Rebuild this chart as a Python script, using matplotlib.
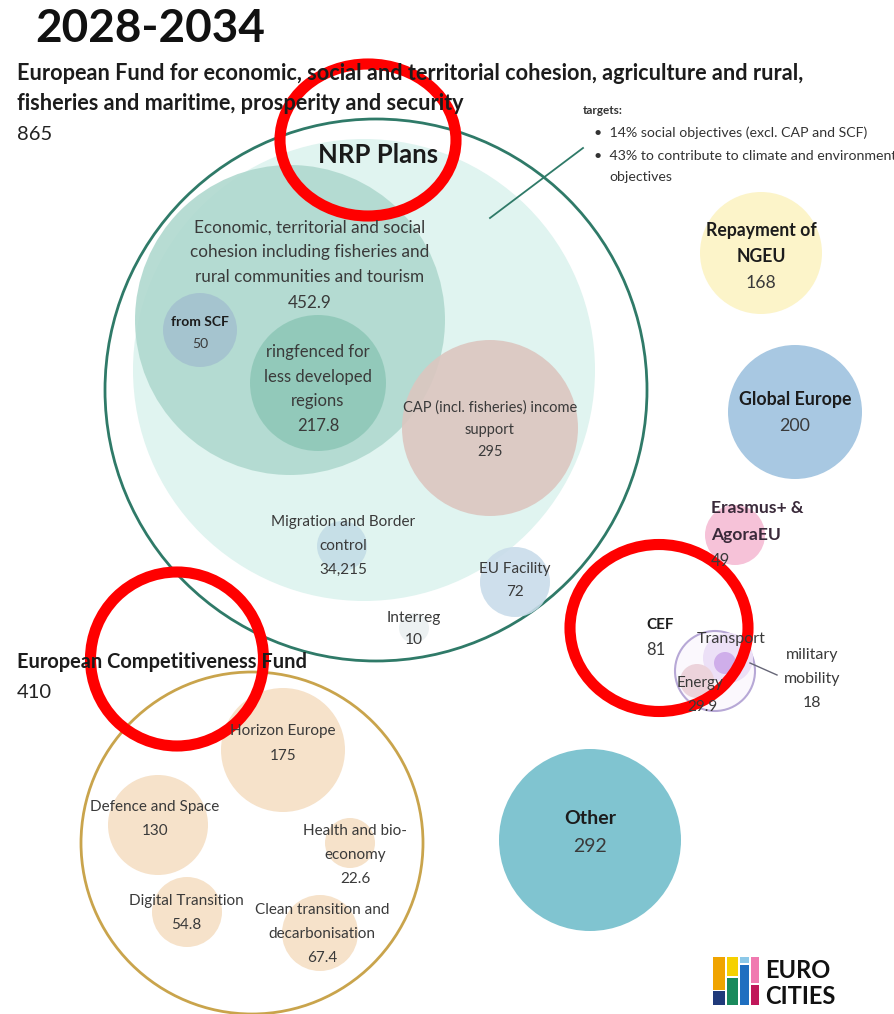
import matplotlib
matplotlib.use("Agg")
import matplotlib.pyplot as plt
from matplotlib.patches import Circle, Ellipse, Rectangle

plt.rcParams['font.family'] = ['Lato', 'DejaVu Sans']

# ---- data ----
period = "2028-2034"
fund1_title = ["European Fund for economic, social and territorial cohesion, agriculture and rural,",
               "fisheries and maritime, prosperity and security"]
fund1_total = 865
fund2_title = "European Competitiveness Fund"
fund2_total = 410

nrp_names = ["Economic, territorial and social\ncohesion including fisheries and\nrural communities and tourism",
             "from SCF", "ringfenced for\nless developed\nregions",
             "CAP (incl. fisheries) income\nsupport", "Migration and Border\ncontrol",
             "EU Facility", "Interreg"]
nrp_values = ["452.9", "50", "217.8", "295", "34,215", "72", "10"]

targets = ["14% social objectives (excl. CAP and SCF)",
           "43% to contribute to climate and environmental\nobjectives"]

ecf_names = ["Horizon Europe", "Defence and Space", "Health and bio-\neconomy",
             "Digital Transition", "Clean transition and\ndecarbonisation"]
ecf_values = ["175", "130", "22.6", "54.8", "67.4"]

other_names = ["Repayment of\nNGEU", "Global Europe", "Other"]
other_values = ["168", "200", "292"]

erasmus_name = "Erasmus+ &\nAgoraEU"
erasmus_value = "49"
cef_name, cef_value = "CEF", "81"
cef_parts = ["Transport", "Energy", "military\nmobility"]
cef_values = ["", "29.9", "18"]

# ---- layout (pixels: centre x, centre y, radius, colour) ----
nrp_circles = [(290, 320, 155, "#b0d9cf"), (200, 330, 37, "#a4c2cf"), (318, 383, 68, "#8fc8b8"),
               (490, 428, 88, "#dcc6c0"), (342, 546, 25, "#c4dde6"), (515, 582, 35, "#c9dcea"),
               (414, 628, 15, "#eaf0f1")]
nrp_labels = [(310, 265, 25, 12.3), (200, 333, 21, 10), (318, 389, 24.5, 12),
              (490, 430, 22, 10.5), (343, 546, 24, 11), (515, 581, 23, 11), (414, 629, 22, 11.2)]
ecf_circles = [(283, 750, 62), (158, 825, 50), (350, 843, 25), (187, 912, 35), (320, 933, 38)]
ecf_labels = [(283, 743, 25), (155, 819, 24), (355, 855, 24), (186, 913, 24), (322, 934, 24)]
other_circles = [(761, 253, 61, "#fcf4c9"), (795, 412, 67, "#a8c8e2"), (590, 840, 91, "#80c4d0")]
other_labels = [(761, 257, 26.5, 12.7), (795, 413, 26, 12.8), (590, 832, 28, 14)]

fig = plt.figure(figsize=(8.94, 10.14), dpi=100)
ax = fig.add_axes([0, 0, 1, 1])
ax.set_xlim(0, 894)
ax.set_ylim(1014, 0)
ax.axis('off')

txt = "#3a3a3a"


def label(x, y, name, value, step, size, bold=False, vsize=None):
    lines = name.split("\n") + ([value] if value else [])
    y0 = y - step * (len(lines) - 1) / 2
    for i, line in enumerate(lines):
        is_val = value and i == len(lines) - 1
        ax.text(x, y0 + i * step, line, ha='center', va='center',
                fontsize=(vsize or size) if is_val else size,
                fontweight='bold' if (bold and not is_val) else 'normal',
                color="#1c1c1c" if bold and not is_val else txt)


# headings
ax.text(35, 29, period, fontsize=33, fontweight='bold', va='center', color="#111111")
for i, line in enumerate(fund1_title):
    ax.text(17, 73 + i * 30, line, fontsize=15.6, fontweight='bold', va='center', color="#1c1c1c")
ax.text(17, 134, str(fund1_total), fontsize=14.5, va='center', color="#222222")
ax.text(17, 662, fund2_title, fontsize=14.4, fontweight='bold', va='center', color="#1c1c1c")
ax.text(17, 692, str(fund2_total), fontsize=14.5, va='center', color="#222222")

# NRP block
ax.add_patch(Circle((376, 390), 271, fc='none', ec="#2f7a68", lw=2))
ax.add_patch(Circle((364, 370), 231, fc="#e0f4f0", ec='none'))
for (cx, cy, r, c), (lx, ly, st, fs), n, v in zip(nrp_circles, nrp_labels, nrp_names, nrp_values):
    ax.add_patch(Circle((cx, cy), r, fc=c, ec='none', alpha=0.9))
    label(lx, ly, n, v, st, fs, bold=(n == "from SCF"))
ax.text(378, 155, "NRP Plans", ha='center', va='center', fontsize=18.5, fontweight='bold', color="#1a1a1a")

# targets note
ax.plot([490, 583], [218, 148], color="#2f7a68", lw=1.3)
ax.text(583, 111, "targets:", fontsize=8.5, fontweight='bold', va='center', color="#333333")
ax.text(594, 133, "\u2022  " + targets[0], fontsize=10.2, va='center', color="#333333")
t2 = targets[1].split("\n")
ax.text(594, 156, "\u2022  " + t2[0], fontsize=10.2, va='center', color="#333333", clip_on=True)
ax.text(609, 177, t2[1], fontsize=10.2, va='center', color="#333333")

# ECF block
ax.add_patch(Circle((252, 843), 171, fc='none', ec="#c9a44c", lw=2))
for (cx, cy, r), (lx, ly, st), n, v in zip(ecf_circles, ecf_labels, ecf_names, ecf_values):
    ax.add_patch(Circle((cx, cy), r, fc="#f6e2ca", ec='none'))
    label(lx, ly, n, v, st, 11)

# standalone funds
for (cx, cy, r, c), (lx, ly, st, fs), n, v in zip(other_circles, other_labels, other_names, other_values):
    ax.add_patch(Circle((cx, cy), r, fc=c, ec='none'))
    label(lx, ly, n, v, st, fs, bold=True)

# Erasmus+
ax.add_patch(Circle((735, 535), 30, fc="#f6c2d8", ec='none'))
er = erasmus_name.split("\n")
ax.text(711, 508, er[0], fontsize=12.6, fontweight='bold', va='center', color="#3a2a3a")
ax.text(711, 535, er[1], fontsize=12.6, fontweight='bold', va='center', color="#3a2a3a")
ax.text(711, 561, erasmus_value, fontsize=12, va='center', color=txt)

# CEF
ax.add_patch(Circle((715, 671), 40, fc="#fbf8fd", ec="#b7a8d6", lw=1.5))
ax.add_patch(Circle((728, 658), 25, fc="#ece0f7", ec='none'))
ax.add_patch(Circle((697, 681), 17, fc="#ecd3db", ec='none'))
ax.add_patch(Circle((725, 663), 11, fc="#cfaeea", ec='none'))
ax.plot([750, 777], [663, 675], color="#666677", lw=1)
ax.text(646, 625, cef_name, fontsize=11, fontweight='bold', va='center', color="#1c1c1c")
ax.text(646, 650, cef_value, fontsize=12, va='center', color=txt)
ax.text(697, 639, cef_parts[0], fontsize=11.5, va='center', color=txt)
ax.text(677, 683, cef_parts[1], fontsize=11, va='center', color=txt)
ax.text(687, 707, cef_values[1], fontsize=11, va='center', color=txt)
label(812, 679, cef_parts[2], cef_values[2], 24, 11.5)

# Eurocities logo
logo_bars = [(713, 957, 12, 33, "#f0a400"), (713, 991, 12, 14, "#203a7a"),
             (727, 957, 11, 19, "#f6d100"), (727, 978, 11, 27, "#1a8a5c"),
             (740, 957, 9, 6, "#8cc8e8"), (740, 965, 9, 40, "#1f6fc0"),
             (751, 957, 8, 26, "#f07ab0"), (751, 985, 8, 20, "#c0185a")]
for x, y, w, h, c in logo_bars:
    ax.add_patch(Rectangle((x, y), w, h, fc=c, ec='none'))
ax.text(765, 971, "EURO", fontsize=17, fontweight='bold', va='center', color="#111111")
ax.text(765, 996, "CITIES", fontsize=17, fontweight='bold', va='center', color="#111111")

# red highlight rings
highlights = [(368, 140, 176, 152), (177, 659, 173, 174), (659, 628, 178, 167)]
for cx, cy, w, h in highlights:
    ax.add_patch(Ellipse((cx, cy), w, h, fc='none', ec="#ff0000", lw=8))

fig.savefig("out.png", dpi=100)
